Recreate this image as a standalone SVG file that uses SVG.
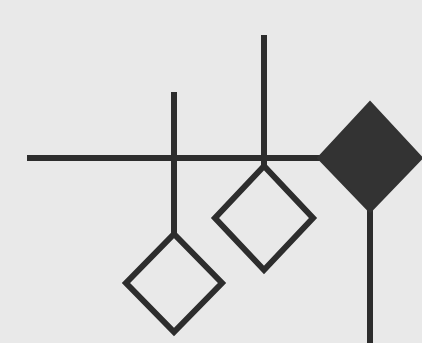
<svg xmlns="http://www.w3.org/2000/svg" width="422" height="343" viewBox="0 0 422 343">
<style>
.ln{stroke:#2d2d2d;stroke-width:6;fill:none;stroke-linecap:butt}
.open{fill:none;stroke:#2d2d2d;stroke-width:6;stroke-linejoin:miter}
.solid{fill:#333333;stroke:#333333;stroke-width:2}
</style>
<rect width="422" height="343" fill="#e9e9e9"/>
<g id="connectors">
<line class="ln" x1="27" y1="158" x2="322" y2="158"/>
<line class="ln" x1="174" y1="92" x2="174" y2="234"/>
<line class="ln" x1="264" y1="35" x2="264" y2="166"/>
<line class="ln" x1="370" y1="208" x2="370" y2="343"/>
</g>
<g id="diamond1"><polygon class="open" points="174,234 222,283 174,332 126,283"/></g>
<g id="diamond2"><polygon class="open" points="264,166 313,218 264,270 215,218"/></g>
<g id="diamond3"><polygon class="solid" points="370,102 422,158 370,212 318,158"/></g>
</svg>
